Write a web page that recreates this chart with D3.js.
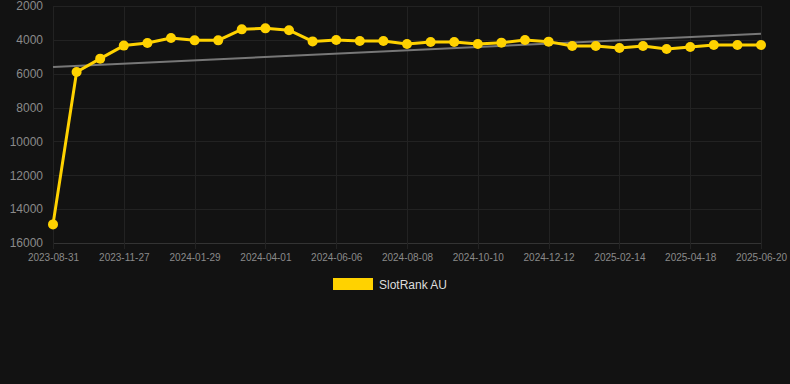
<!DOCTYPE html>
<html><head><meta charset="utf-8">
<script src="https://cdn.jsdelivr.net/npm/d3@7"></script>
<style>html,body{margin:0;padding:0;background:#121212;}svg{display:block;}</style>
</head><body>
<div id="chart"></div>
<script>
const dates = ["2023-08-31","2023-09-29","2023-10-28","2023-11-27","2023-12-18","2024-01-08","2024-01-29","2024-02-19","2024-03-11","2024-04-01","2024-04-23","2024-05-15","2024-06-06","2024-06-27","2024-07-18","2024-08-08","2024-08-29","2024-09-19","2024-10-10","2024-10-31","2024-11-21","2024-12-12","2025-01-02","2025-01-23","2025-02-14","2025-03-07","2025-03-28","2025-04-18","2025-05-09","2025-05-30","2025-06-20"];
const rankAU = [14900,5900,5110,4340,4185,3890,4030,4030,3380,3320,3430,4090,4010,4070,4070,4245,4125,4125,4245,4165,4010,4105,4360,4360,4480,4360,4540,4420,4300,4300,4300];
const trendStart = 5600, trendEnd = 3640;
const yTicks = [2000,4000,6000,8000,10000,12000,14000,16000];
const tickLabels = ["2023-08-31","2023-11-27","2024-01-29","2024-04-01","2024-06-06","2024-08-08","2024-10-10","2024-12-12","2025-02-14","2025-04-18","2025-06-20"];
const seriesName = "SlotRank AU";

const W = 790, H = 384;
const svg = d3.select("#chart").append("svg").attr("width", W).attr("height", H);
svg.append("rect").attr("width", W).attr("height", H).attr("fill", "#121212");

const x = d3.scalePoint().domain(dates).range([53, 761]);
const y = d3.scaleLinear().domain([2000, 16000]).range([6, 243]);

// horizontal grid
svg.append("g").selectAll("line").data(yTicks).join("line")
  .attr("x1", 53).attr("x2", 761)
  .attr("y1", d => Math.round(y(d)) + 0.5).attr("y2", d => Math.round(y(d)) + 0.5)
  .attr("stroke", d => d === 16000 ? "#333" : "#222").attr("stroke-width", 1);
// vertical grid
svg.append("g").selectAll("line").data(tickLabels).join("line")
  .attr("x1", d => Math.round(x(d)) + 0.5).attr("x2", d => Math.round(x(d)) + 0.5)
  .attr("y1", 6).attr("y2", 249)
  .attr("stroke", "#222").attr("stroke-width", 1);

// y axis labels
const yAxis = d3.axisLeft(y).tickValues(yTicks).tickSize(0).tickPadding(0).tickFormat(d3.format("d"));
const gy = svg.append("g").attr("transform", "translate(43,0)").call(yAxis);
gy.select(".domain").remove();
gy.selectAll("text").attr("fill", "#8a8a8a").style("font", "12px 'Liberation Sans', Arial, sans-serif");

// x axis labels
const xAxis = d3.axisBottom(x).tickValues(tickLabels).tickSize(0).tickPadding(0);
const gx = svg.append("g").attr("transform", "translate(0,254)").call(xAxis);
gx.select(".domain").remove();
gx.selectAll("text").attr("fill", "#8a8a8a").style("font", "10px 'Liberation Sans', Arial, sans-serif");

// trend line
svg.append("line")
  .attr("x1", x(dates[0])).attr("y1", y(trendStart))
  .attr("x2", x(dates[dates.length - 1])).attr("y2", y(trendEnd))
  .attr("stroke", "#777").attr("stroke-width", 2);

// series line
const line = d3.line().x((d, i) => x(dates[i])).y(d => y(d));
svg.append("path").datum(rankAU).attr("d", line)
  .attr("fill", "none").attr("stroke", "#FFD200").attr("stroke-width", 3).attr("stroke-linejoin", "round");
svg.append("g").selectAll("circle").data(rankAU).join("circle")
  .attr("cx", (d, i) => x(dates[i])).attr("cy", d => y(d)).attr("r", 5).attr("fill", "#FFD200");

// legend
svg.append("rect").attr("x", 333).attr("y", 278).attr("width", 40).attr("height", 12).attr("fill", "#FFD200");
svg.append("text").attr("x", 379).attr("y", 289).text(seriesName)
  .attr("fill", "#dddddd").style("font", "12px 'Liberation Sans', Arial, sans-serif");
</script>
</body></html>
